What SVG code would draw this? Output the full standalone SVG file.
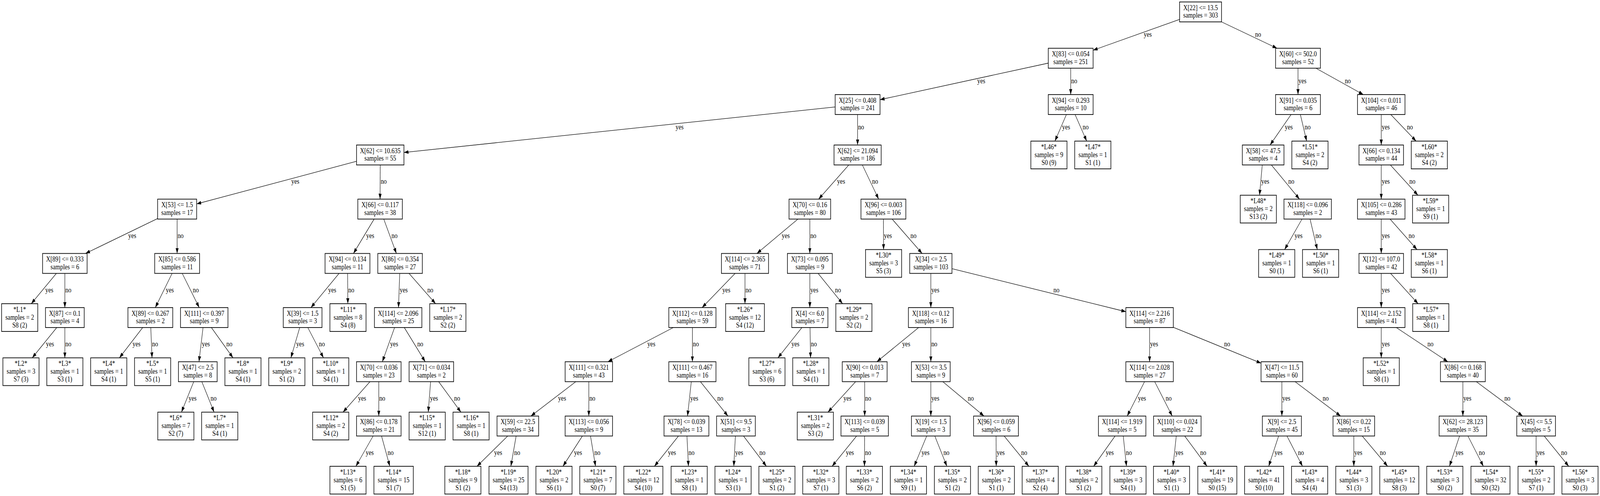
<svg xmlns="http://www.w3.org/2000/svg" width="4959" height="1269" viewBox="0 0 4959 1269" preserveAspectRatio="none" style="width:100vw;height:100vh;display:block">
<style>
.n rect{fill:#fff;stroke:#000;stroke-width:1.8}
text{font-family:"Liberation Serif","Times New Roman",serif;font-size:18.6px;fill:#000}
.n text{text-anchor:middle}
.e line{stroke:#000;stroke-width:1.3;marker-end:url(#ah)}
.e text{text-anchor:start}
</style>
<defs>
<marker id="ah" markerUnits="userSpaceOnUse" markerWidth="14" markerHeight="10" refX="14" refY="5" orient="auto"><path d="M0,0.3 L14,5 L0,9.7 z" fill="#000"/></marker>
</defs>
<rect x="0" y="0" width="4959" height="1269" fill="#fff"/>
<g id="connectors" class="e">
<line x1="3656" y1="49.6" x2="3388" y2="128.5"/><text x="3545" y="94.3">yes</text>
<line x1="3786" y1="56" x2="3958" y2="123.5"/><text x="3890" y="94.3">no</text>
<line x1="3249" y1="161.5" x2="2727.5" y2="255"/><text x="3029" y="212.8">yes</text>
<line x1="3318.5" y1="174.5" x2="3318.5" y2="242"/><text x="3320" y="212.8">no</text>
<line x1="4023" y1="174.5" x2="4023" y2="242"/><text x="4024.5" y="212.8">yes</text>
<line x1="4078.5" y1="174.5" x2="4225.5" y2="242"/><text x="4168" y="212.8">no</text>
<line x1="2588.5" y1="273.6" x2="1252" y2="390.1"/><text x="2094" y="331.5">yes</text>
<line x1="2658" y1="293" x2="2658" y2="371"/><text x="2659.5" y="331.5">no</text>
<line x1="3305.2" y1="293" x2="3269.6" y2="361"/><text x="3292" y="331.5">yes</text>
<line x1="3332" y1="293" x2="3368.1" y2="361"/><text x="3355.5" y="331.5">no</text>
<line x1="4001.6" y1="293" x2="3936.4" y2="371"/><text x="3982" y="331.5">yes</text>
<line x1="4030.3" y1="293" x2="4049.8" y2="361"/><text x="4043.5" y="331.5">no</text>
<line x1="4281" y1="293" x2="4281" y2="371"/><text x="4282.5" y="331.5">yes</text>
<line x1="4310.5" y1="293" x2="4389" y2="361"/><text x="4360.5" y="331.5">no</text>
<line x1="1105" y1="412.7" x2="609.5" y2="521.7"/><text x="903" y="470.3">yes</text>
<line x1="1178.5" y1="422" x2="1178" y2="509.5"/><text x="1180" y="470.3">no</text>
<line x1="2630.8" y1="422" x2="2537.2" y2="509.5"/><text x="2594.4" y="470.3">yes</text>
<line x1="2672.7" y1="422" x2="2723.3" y2="509.5"/><text x="2703" y="470.3">no</text>
<line x1="3912.2" y1="422" x2="3903.8" y2="499.5"/><text x="3909" y="470.3">yes</text>
<line x1="3940.4" y1="422" x2="4027.6" y2="509.5"/><text x="3993" y="470.3">no</text>
<line x1="4281" y1="422" x2="4281" y2="509.5"/><text x="4282.5" y="470.3">yes</text>
<line x1="4309.2" y1="422" x2="4394.8" y2="499.5"/><text x="4368.2" y="470.3">no</text>
<line x1="488.5" y1="559.2" x2="264.9" y2="648.5"/><text x="397.4" y="609">yes</text>
<line x1="549" y1="560.5" x2="549" y2="648.5"/><text x="550.5" y="609">no</text>
<line x1="1159.5" y1="560.5" x2="1095.5" y2="648.5"/><text x="1135" y="609">yes</text>
<line x1="1189.4" y1="560.5" x2="1228.6" y2="648.5"/><text x="1213.5" y="609">no</text>
<line x1="2473.1" y1="560.5" x2="2345.9" y2="648.5"/><text x="2423" y="609">yes</text>
<line x1="2510" y1="560.5" x2="2510" y2="648.5"/><text x="2511.5" y="609">no</text>
<line x1="2738" y1="560.5" x2="2738.5" y2="638.5"/><text x="2739.5" y="609">yes</text>
<line x1="2765" y1="560.5" x2="2858" y2="648.5"/><text x="2821.8" y="609">no</text>
<line x1="4035.4" y1="560.5" x2="3981.5" y2="638.5"/><text x="4012.3" y="609">yes</text>
<line x1="4060.3" y1="560.5" x2="4082.8" y2="638.5"/><text x="4076.9" y="609">no</text>
<line x1="4281" y1="560.5" x2="4281" y2="648.5"/><text x="4282.5" y="609">yes</text>
<line x1="4308.3" y1="560.5" x2="4391.9" y2="638.5"/><text x="4365.9" y="609">no</text>
<line x1="175.2" y1="699" x2="96.9" y2="777"/><text x="140.5" y="747.8">yes</text>
<line x1="201" y1="699" x2="201" y2="787"/><text x="202.5" y="747.8">no</text>
<line x1="533.7" y1="699" x2="481.3" y2="787"/><text x="514" y="747.8">yes</text>
<line x1="564.5" y1="699" x2="617.5" y2="787"/><text x="597.5" y="747.8">no</text>
<line x1="1051.4" y1="699" x2="963.6" y2="787"/><text x="1017.3" y="747.8">yes</text>
<line x1="1077.3" y1="699" x2="1078.1" y2="777"/><text x="1079.4" y="747.8">no</text>
<line x1="1238.9" y1="699" x2="1235.1" y2="787"/><text x="1238.9" y="747.8">yes</text>
<line x1="1267.2" y1="699" x2="1350.1" y2="777"/><text x="1324.4" y="747.8">no</text>
<line x1="2279" y1="699" x2="2176" y2="787"/><text x="2238.8" y="747.8">yes</text>
<line x1="2309" y1="699" x2="2309" y2="777"/><text x="2310.5" y="747.8">no</text>
<line x1="2510" y1="699" x2="2510" y2="787"/><text x="2511.5" y="747.8">yes</text>
<line x1="2535.1" y1="699" x2="2611.5" y2="777"/><text x="2588" y="747.8">no</text>
<line x1="2885" y1="699" x2="2885" y2="787"/><text x="2886.5" y="747.8">yes</text>
<line x1="2950.5" y1="687.4" x2="3489.5" y2="797.5"/><text x="3265" y="747.8">no</text>
<line x1="4281" y1="699" x2="4281" y2="787"/><text x="4282.5" y="747.8">yes</text>
<line x1="4309.3" y1="699" x2="4395.2" y2="777"/><text x="4368.5" y="747.8">no</text>
<line x1="176" y1="838" x2="99.9" y2="915.5"/><text x="142.7" y="886.3">yes</text>
<line x1="201" y1="838" x2="201" y2="915.5"/><text x="202.5" y="886.3">no</text>
<line x1="442.3" y1="838" x2="370.1" y2="915.5"/><text x="410.7" y="886.3">yes</text>
<line x1="467.3" y1="838" x2="471.2" y2="915.5"/><text x="471.4" y="886.3">no</text>
<line x1="629.3" y1="838" x2="616.7" y2="925.5"/><text x="625.7" y="886.3">yes</text>
<line x1="655.1" y1="838" x2="722.2" y2="915.5"/><text x="701.7" y="886.3">no</text>
<line x1="929" y1="838" x2="901.6" y2="915.5"/><text x="917.9" y="886.3">yes</text>
<line x1="954" y1="838" x2="1002.7" y2="915.5"/><text x="988.2" y="886.3">no</text>
<line x1="1223" y1="838" x2="1185" y2="925.5"/><text x="1209.1" y="886.3">yes</text>
<line x1="1253" y1="838" x2="1318" y2="925.5"/><text x="1293.2" y="886.3">no</text>
<line x1="2086.9" y1="838" x2="1884.1" y2="925.5"/><text x="2006.3" y="886.3">yes</text>
<line x1="2146" y1="838" x2="2146" y2="925.5"/><text x="2147.5" y="886.3">no</text>
<line x1="2485.5" y1="838" x2="2411.1" y2="915.5"/><text x="2453" y="886.3">yes</text>
<line x1="2510.6" y1="838" x2="2512.2" y2="915.5"/><text x="2513.2" y="886.3">no</text>
<line x1="2847.3" y1="838" x2="2717.7" y2="925.5"/><text x="2796.3" y="886.3">yes</text>
<line x1="2885" y1="838" x2="2885" y2="925.5"/><text x="2886.5" y="886.3">no</text>
<line x1="3563" y1="838" x2="3563" y2="925.5"/><text x="3564.5" y="886.3">yes</text>
<line x1="3636.5" y1="837.3" x2="3908.5" y2="929.2"/><text x="3794" y="886.3">no</text>
<line x1="4281" y1="838" x2="4281" y2="915.5"/><text x="4282.5" y="886.3">yes</text>
<line x1="4327.6" y1="838" x2="4487.4" y2="925.5"/><text x="4424.2" y="886.3">no</text>
<line x1="600.5" y1="976.5" x2="562.4" y2="1054.5"/><text x="584.6" y="1025">yes</text>
<line x1="625.5" y1="976.5" x2="663.6" y2="1054.5"/><text x="652.6" y="1025">no</text>
<line x1="1146.7" y1="976.5" x2="1063.1" y2="1054.5"/><text x="1109.9" y="1025">yes</text>
<line x1="1174" y1="976.5" x2="1174" y2="1064.5"/><text x="1175.5" y="1025">no</text>
<line x1="1334.6" y1="976.5" x2="1327.3" y2="1054.5"/><text x="1332.8" y="1025">yes</text>
<line x1="1359.6" y1="976.5" x2="1428.6" y2="1054.5"/><text x="1407.4" y="1025">no</text>
<line x1="1784.6" y1="976.5" x2="1645.4" y2="1064.5"/><text x="1729.7" y="1025">yes</text>
<line x1="1825" y1="976.5" x2="1825" y2="1064.5"/><text x="1826.5" y="1025">no</text>
<line x1="2142.6" y1="976.5" x2="2130.9" y2="1064.5"/><text x="2139.4" y="1025">yes</text>
<line x1="2170.8" y1="976.5" x2="2256.2" y2="1064.5"/><text x="2223.1" y="1025">no</text>
<line x1="2651.9" y1="976.5" x2="2566.1" y2="1054.5"/><text x="2614.2" y="1025">yes</text>
<line x1="2680" y1="976.5" x2="2680" y2="1064.5"/><text x="2681.5" y="1025">no</text>
<line x1="2885" y1="976.5" x2="2885" y2="1064.5"/><text x="2886.5" y="1025">yes</text>
<line x1="2922.1" y1="976.5" x2="3049.9" y2="1064.5"/><text x="2999.6" y="1025">no</text>
<line x1="3547.4" y1="976.5" x2="3493.6" y2="1064.5"/><text x="3527.1" y="1025">yes</text>
<line x1="3578.8" y1="976.5" x2="3633.2" y2="1064.5"/><text x="3612.7" y="1025">no</text>
<line x1="3973" y1="976.5" x2="3973" y2="1064.5"/><text x="3974.5" y="1025">yes</text>
<line x1="4013.9" y1="976.5" x2="4155.1" y2="1064.5"/><text x="4099.4" y="1025">no</text>
<line x1="4534" y1="976.5" x2="4534" y2="1064.5"/><text x="4535.5" y="1025">yes</text>
<line x1="4575.7" y1="976.5" x2="4719.3" y2="1064.5"/><text x="4662.6" y="1025">no</text>
<line x1="1156.4" y1="1115.5" x2="1103" y2="1193"/><text x="1133.5" y="1163.8">yes</text>
<line x1="1182.5" y1="1115.5" x2="1208.2" y2="1193"/><text x="1201.3" y="1163.8">no</text>
<line x1="1573.6" y1="1115.5" x2="1478.3" y2="1193"/><text x="1531.5" y="1163.8">yes</text>
<line x1="1599.7" y1="1115.5" x2="1583.4" y2="1193"/><text x="1593.7" y="1163.8">no</text>
<line x1="1805.1" y1="1115.5" x2="1744.7" y2="1193"/><text x="1779" y="1163.8">yes</text>
<line x1="1830.2" y1="1115.5" x2="1845.8" y2="1193"/><text x="1842.2" y="1163.8">no</text>
<line x1="2102.9" y1="1115.5" x2="2028.2" y2="1193"/><text x="2070.3" y="1163.8">yes</text>
<line x1="2129.1" y1="1115.5" x2="2133.8" y2="1193"/><text x="2133.8" y="1163.8">no</text>
<line x1="2279.3" y1="1115.5" x2="2274.3" y2="1193"/><text x="2278.5" y="1163.8">yes</text>
<line x1="2304.4" y1="1115.5" x2="2375.4" y2="1193"/><text x="2353.6" y="1163.8">no</text>
<line x1="2655" y1="1115.5" x2="2578.9" y2="1193"/><text x="2621.7" y="1163.8">yes</text>
<line x1="2679.8" y1="1115.5" x2="2679.3" y2="1193"/><text x="2681.1" y="1163.8">no</text>
<line x1="2872.2" y1="1115.5" x2="2833.3" y2="1193"/><text x="2855.9" y="1163.8">yes</text>
<line x1="2897.3" y1="1115.5" x2="2934.8" y2="1193"/><text x="2924" y="1163.8">no</text>
<line x1="3087.2" y1="1115.5" x2="3087.7" y2="1193"/><text x="3089.1" y="1163.8">yes</text>
<line x1="3112.2" y1="1115.5" x2="3188.9" y2="1193"/><text x="3165.2" y="1163.8">no</text>
<line x1="3456.1" y1="1115.5" x2="3389.5" y2="1193"/><text x="3427.1" y="1163.8">yes</text>
<line x1="3481.3" y1="1115.5" x2="3491.4" y2="1193"/><text x="3489.6" y="1163.8">no</text>
<line x1="3645.7" y1="1115.5" x2="3635.6" y2="1193"/><text x="3642.6" y="1163.8">yes</text>
<line x1="3671.8" y1="1115.5" x2="3741.2" y2="1193"/><text x="3719.9" y="1163.8">no</text>
<line x1="3962.9" y1="1115.5" x2="3932.1" y2="1193"/><text x="3950.3" y="1163.8">yes</text>
<line x1="3988.8" y1="1115.5" x2="4037" y2="1193"/><text x="4022.7" y="1163.8">no</text>
<line x1="4196" y1="1115.5" x2="4196" y2="1193"/><text x="4197.5" y="1163.8">yes</text>
<line x1="4222" y1="1115.5" x2="4300.9" y2="1193"/><text x="4276.5" y="1163.8">no</text>
<line x1="4523.7" y1="1115.5" x2="4492.4" y2="1193"/><text x="4510.9" y="1163.8">yes</text>
<line x1="4549.7" y1="1115.5" x2="4597.6" y2="1193"/><text x="4583.4" y="1163.8">no</text>
<line x1="4761" y1="1115.5" x2="4761" y2="1193"/><text x="4762.5" y="1163.8">yes</text>
<line x1="4786" y1="1115.5" x2="4862.1" y2="1193"/><text x="4838.7" y="1163.8">no</text>
</g>
<g id="n0" class="n"><rect x="3656" y="5" width="130" height="51"/><text x="3721" y="26">X[22] &lt;= 13.5</text><text x="3721" y="45.5">samples = 303</text></g>
<g id="n1" class="n"><rect x="3249" y="123.5" width="139" height="51"/><text x="3318.5" y="144.5">X[83] &lt;= 0.054</text><text x="3318.5" y="164">samples = 251</text></g>
<g id="n47" class="n"><rect x="3953.5" y="123.5" width="139" height="51"/><text x="4023" y="144.5">X[60] &lt;= 502.0</text><text x="4023" y="164">samples = 52</text></g>
<g id="n2" class="n"><rect x="2588.5" y="242" width="139" height="51"/><text x="2658" y="263">X[25] &lt;= 0.408</text><text x="2658" y="282.5">samples = 241</text></g>
<g id="n46" class="n"><rect x="3249" y="242" width="139" height="51"/><text x="3318.5" y="263">X[94] &lt;= 0.293</text><text x="3318.5" y="282.5">samples = 10</text></g>
<g id="n48" class="n"><rect x="3953.5" y="242" width="139" height="51"/><text x="4023" y="263">X[91] &lt;= 0.035</text><text x="4023" y="282.5">samples = 6</text></g>
<g id="n51" class="n"><rect x="4207.5" y="242" width="147" height="51"/><text x="4281" y="263">X[104] &lt;= 0.011</text><text x="4281" y="282.5">samples = 46</text></g>
<g id="n3" class="n"><rect x="1105" y="371" width="147" height="51"/><text x="1178.5" y="392">X[62] &lt;= 10.635</text><text x="1178.5" y="411.5">samples = 55</text></g>
<g id="n19" class="n"><rect x="2585" y="371" width="146" height="51"/><text x="2658" y="392">X[62] &lt;= 21.094</text><text x="2658" y="411.5">samples = 186</text></g>
<g id="n49" class="n"><rect x="3850.5" y="371" width="129" height="51"/><text x="3915" y="392">X[58] &lt;= 47.5</text><text x="3915" y="411.5">samples = 4</text></g>
<g id="n52" class="n"><rect x="4212" y="371" width="138" height="51"/><text x="4281" y="392">X[66] &lt;= 0.134</text><text x="4281" y="411.5">samples = 44</text></g>
<g id="n4" class="n"><rect x="488.5" y="509.5" width="121" height="51"/><text x="549" y="530.5">X[53] &lt;= 1.5</text><text x="549" y="550">samples = 17</text></g>
<g id="n11" class="n"><rect x="1109" y="509.5" width="138" height="51"/><text x="1178" y="530.5">X[66] &lt;= 0.117</text><text x="1178" y="550">samples = 38</text></g>
<g id="n20" class="n"><rect x="2445.5" y="509.5" width="129" height="51"/><text x="2510" y="530.5">X[70] &lt;= 0.16</text><text x="2510" y="550">samples = 80</text></g>
<g id="n31" class="n"><rect x="2668.5" y="509.5" width="139" height="51"/><text x="2738" y="530.5">X[96] &lt;= 0.003</text><text x="2738" y="550">samples = 106</text></g>
<g id="n50" class="n"><rect x="3979.5" y="509.5" width="147" height="51"/><text x="4053" y="530.5">X[118] &lt;= 0.096</text><text x="4053" y="550">samples = 2</text></g>
<g id="n53" class="n"><rect x="4207.5" y="509.5" width="147" height="51"/><text x="4281" y="530.5">X[105] &lt;= 0.286</text><text x="4281" y="550">samples = 43</text></g>
<g id="n5" class="n"><rect x="132" y="648.5" width="138" height="51"/><text x="201" y="669.5">X[89] &lt;= 0.333</text><text x="201" y="689">samples = 6</text></g>
<g id="n7" class="n"><rect x="479.5" y="648.5" width="139" height="51"/><text x="549" y="669.5">X[85] &lt;= 0.586</text><text x="549" y="689">samples = 11</text></g>
<g id="n12" class="n"><rect x="1007.5" y="648.5" width="139" height="51"/><text x="1077" y="669.5">X[94] &lt;= 0.134</text><text x="1077" y="689">samples = 11</text></g>
<g id="n14" class="n"><rect x="1171" y="648.5" width="138" height="51"/><text x="1240" y="669.5">X[86] &lt;= 0.354</text><text x="1240" y="689">samples = 27</text></g>
<g id="n21" class="n"><rect x="2236" y="648.5" width="146" height="51"/><text x="2309" y="669.5">X[114] &lt;= 2.365</text><text x="2309" y="689">samples = 71</text></g>
<g id="n29" class="n"><rect x="2440.5" y="648.5" width="139" height="51"/><text x="2510" y="669.5">X[73] &lt;= 0.095</text><text x="2510" y="689">samples = 9</text></g>
<g id="n32" class="n"><rect x="2819.5" y="648.5" width="131" height="51"/><text x="2885" y="669.5">X[34] &lt;= 2.5</text><text x="2885" y="689">samples = 103</text></g>
<g id="n54" class="n"><rect x="4212" y="648.5" width="138" height="51"/><text x="4281" y="669.5">X[12] &lt;= 107.0</text><text x="4281" y="689">samples = 42</text></g>
<g id="n6" class="n"><rect x="141" y="787" width="120" height="51"/><text x="201" y="808">X[87] &lt;= 0.1</text><text x="201" y="827.5">samples = 4</text></g>
<g id="n8" class="n"><rect x="396.5" y="787" width="139" height="51"/><text x="466" y="808">X[89] &lt;= 0.267</text><text x="466" y="827.5">samples = 2</text></g>
<g id="n9" class="n"><rect x="559.5" y="787" width="147" height="51"/><text x="633" y="808">X[111] &lt;= 0.397</text><text x="633" y="827.5">samples = 9</text></g>
<g id="n13" class="n"><rect x="878" y="787" width="120" height="51"/><text x="938" y="808">X[39] &lt;= 1.5</text><text x="938" y="827.5">samples = 3</text></g>
<g id="n15" class="n"><rect x="1160.5" y="787" width="147" height="51"/><text x="1234" y="808">X[114] &lt;= 2.096</text><text x="1234" y="827.5">samples = 25</text></g>
<g id="n22" class="n"><rect x="2073" y="787" width="146" height="51"/><text x="2146" y="808">X[112] &lt;= 0.128</text><text x="2146" y="827.5">samples = 59</text></g>
<g id="n30" class="n"><rect x="2454" y="787" width="112" height="51"/><text x="2510" y="808">X[4] &lt;= 6.0</text><text x="2510" y="827.5">samples = 7</text></g>
<g id="n33" class="n"><rect x="2815.5" y="787" width="139" height="51"/><text x="2885" y="808">X[118] &lt;= 0.12</text><text x="2885" y="827.5">samples = 16</text></g>
<g id="n39" class="n"><rect x="3489.5" y="787" width="147" height="51"/><text x="3563" y="808">X[114] &lt;= 2.216</text><text x="3563" y="827.5">samples = 87</text></g>
<g id="n55" class="n"><rect x="4207.5" y="787" width="147" height="51"/><text x="4281" y="808">X[114] &lt;= 2.152</text><text x="4281" y="827.5">samples = 41</text></g>
<g id="n10" class="n"><rect x="553" y="925.5" width="120" height="51"/><text x="613" y="946.5">X[47] &lt;= 2.5</text><text x="613" y="966">samples = 8</text></g>
<g id="n16" class="n"><rect x="1105" y="925.5" width="138" height="51"/><text x="1174" y="946.5">X[70] &lt;= 0.036</text><text x="1174" y="966">samples = 23</text></g>
<g id="n18" class="n"><rect x="1268" y="925.5" width="138" height="51"/><text x="1337" y="946.5">X[71] &lt;= 0.034</text><text x="1337" y="966">samples = 2</text></g>
<g id="n23" class="n"><rect x="1751.5" y="925.5" width="147" height="51"/><text x="1825" y="946.5">X[111] &lt;= 0.321</text><text x="1825" y="966">samples = 43</text></g>
<g id="n26" class="n"><rect x="2073" y="925.5" width="146" height="51"/><text x="2146" y="946.5">X[111] &lt;= 0.467</text><text x="2146" y="966">samples = 16</text></g>
<g id="n34" class="n"><rect x="2610.5" y="925.5" width="139" height="51"/><text x="2680" y="946.5">X[90] &lt;= 0.013</text><text x="2680" y="966">samples = 7</text></g>
<g id="n36" class="n"><rect x="2825" y="925.5" width="120" height="51"/><text x="2885" y="946.5">X[53] &lt;= 3.5</text><text x="2885" y="966">samples = 9</text></g>
<g id="n40" class="n"><rect x="3489.5" y="925.5" width="147" height="51"/><text x="3563" y="946.5">X[114] &lt;= 2.028</text><text x="3563" y="966">samples = 27</text></g>
<g id="n43" class="n"><rect x="3908.5" y="925.5" width="129" height="51"/><text x="3973" y="946.5">X[47] &lt;= 11.5</text><text x="3973" y="966">samples = 60</text></g>
<g id="n56" class="n"><rect x="4464.5" y="925.5" width="139" height="51"/><text x="4534" y="946.5">X[86] &lt;= 0.168</text><text x="4534" y="966">samples = 40</text></g>
<g id="n17" class="n"><rect x="1105" y="1064.5" width="138" height="51"/><text x="1174" y="1085.5">X[86] &lt;= 0.178</text><text x="1174" y="1105">samples = 21</text></g>
<g id="n24" class="n"><rect x="1540.5" y="1064.5" width="129" height="51"/><text x="1605" y="1085.5">X[59] &lt;= 22.5</text><text x="1605" y="1105">samples = 34</text></g>
<g id="n25" class="n"><rect x="1751.5" y="1064.5" width="147" height="51"/><text x="1825" y="1085.5">X[113] &lt;= 0.056</text><text x="1825" y="1105">samples = 9</text></g>
<g id="n27" class="n"><rect x="2058" y="1064.5" width="139" height="51"/><text x="2127.5" y="1085.5">X[78] &lt;= 0.039</text><text x="2127.5" y="1105">samples = 13</text></g>
<g id="n28" class="n"><rect x="2221" y="1064.5" width="120" height="51"/><text x="2281" y="1085.5">X[51] &lt;= 9.5</text><text x="2281" y="1105">samples = 3</text></g>
<g id="n35" class="n"><rect x="2606.5" y="1064.5" width="147" height="51"/><text x="2680" y="1085.5">X[113] &lt;= 0.039</text><text x="2680" y="1105">samples = 5</text></g>
<g id="n37" class="n"><rect x="2825" y="1064.5" width="120" height="51"/><text x="2885" y="1085.5">X[19] &lt;= 1.5</text><text x="2885" y="1105">samples = 3</text></g>
<g id="n38" class="n"><rect x="3017.5" y="1064.5" width="139" height="51"/><text x="3087" y="1085.5">X[96] &lt;= 0.059</text><text x="3087" y="1105">samples = 6</text></g>
<g id="n41" class="n"><rect x="3404.5" y="1064.5" width="147" height="51"/><text x="3478" y="1085.5">X[114] &lt;= 1.919</text><text x="3478" y="1105">samples = 5</text></g>
<g id="n42" class="n"><rect x="3575.5" y="1064.5" width="147" height="51"/><text x="3649" y="1085.5">X[110] &lt;= 0.024</text><text x="3649" y="1105">samples = 22</text></g>
<g id="n44" class="n"><rect x="3912.5" y="1064.5" width="121" height="51"/><text x="3973" y="1085.5">X[9] &lt;= 2.5</text><text x="3973" y="1105">samples = 45</text></g>
<g id="n45" class="n"><rect x="4131.5" y="1064.5" width="129" height="51"/><text x="4196" y="1085.5">X[86] &lt;= 0.22</text><text x="4196" y="1105">samples = 15</text></g>
<g id="n57" class="n"><rect x="4460.5" y="1064.5" width="147" height="51"/><text x="4534" y="1085.5">X[62] &lt;= 28.123</text><text x="4534" y="1105">samples = 35</text></g>
<g id="n58" class="n"><rect x="4701" y="1064.5" width="120" height="51"/><text x="4761" y="1085.5">X[45] &lt;= 5.5</text><text x="4761" y="1105">samples = 5</text></g>
<g id="L46" class="n"><rect x="3195" y="361" width="112" height="71"/><text x="3251" y="382">*L46*</text><text x="3251" y="402">samples = 9</text><text x="3251" y="422">S0 (9)</text></g>
<g id="L47" class="n"><rect x="3331" y="361" width="112" height="71"/><text x="3387" y="382">*L47*</text><text x="3387" y="402">samples = 1</text><text x="3387" y="422">S1 (1)</text></g>
<g id="L51" class="n"><rect x="4004" y="361" width="112" height="71"/><text x="4060" y="382">*L51*</text><text x="4060" y="402">samples = 2</text><text x="4060" y="422">S4 (2)</text></g>
<g id="L60" class="n"><rect x="4374" y="361" width="112" height="71"/><text x="4430" y="382">*L60*</text><text x="4430" y="402">samples = 2</text><text x="4430" y="422">S4 (2)</text></g>
<g id="L48" class="n"><rect x="3844" y="499.5" width="112" height="71"/><text x="3900" y="520.5">*L48*</text><text x="3900" y="540.5">samples = 2</text><text x="3900" y="560.5">S13 (2)</text></g>
<g id="L59" class="n"><rect x="4378" y="499.5" width="112" height="71"/><text x="4434" y="520.5">*L59*</text><text x="4434" y="540.5">samples = 1</text><text x="4434" y="560.5">S9 (1)</text></g>
<g id="L30" class="n"><rect x="2682.6" y="638.5" width="112" height="71"/><text x="2738.6" y="659.5">*L30*</text><text x="2738.6" y="679.5">samples = 3</text><text x="2738.6" y="699.5">S5 (3)</text></g>
<g id="L49" class="n"><rect x="3901" y="638.5" width="112" height="71"/><text x="3957" y="659.5">*L49*</text><text x="3957" y="679.5">samples = 1</text><text x="3957" y="699.5">S0 (1)</text></g>
<g id="L50" class="n"><rect x="4037" y="638.5" width="112" height="71"/><text x="4093" y="659.5">*L50*</text><text x="4093" y="679.5">samples = 1</text><text x="4093" y="699.5">S6 (1)</text></g>
<g id="L58" class="n"><rect x="4374" y="638.5" width="112" height="71"/><text x="4430" y="659.5">*L58*</text><text x="4430" y="679.5">samples = 1</text><text x="4430" y="699.5">S6 (1)</text></g>
<g id="L1" class="n"><rect x="5" y="777" width="112" height="71"/><text x="61" y="798">*L1*</text><text x="61" y="818">samples = 2</text><text x="61" y="838">S8 (2)</text></g>
<g id="L11" class="n"><rect x="1022.5" y="777" width="112" height="71"/><text x="1078.5" y="798">*L11*</text><text x="1078.5" y="818">samples = 8</text><text x="1078.5" y="838">S4 (8)</text></g>
<g id="L17" class="n"><rect x="1332" y="777" width="112" height="71"/><text x="1388" y="798">*L17*</text><text x="1388" y="818">samples = 2</text><text x="1388" y="838">S2 (2)</text></g>
<g id="L26" class="n"><rect x="2249" y="777" width="120" height="71"/><text x="2309" y="798">*L26*</text><text x="2309" y="818">samples = 12</text><text x="2309" y="838">S4 (12)</text></g>
<g id="L29" class="n"><rect x="2590.5" y="777" width="112" height="71"/><text x="2646.5" y="798">*L29*</text><text x="2646.5" y="818">samples = 2</text><text x="2646.5" y="838">S2 (2)</text></g>
<g id="L57" class="n"><rect x="4378.5" y="777" width="112" height="71"/><text x="4434.5" y="798">*L57*</text><text x="4434.5" y="818">samples = 1</text><text x="4434.5" y="838">S8 (1)</text></g>
<g id="L2" class="n"><rect x="9" y="915.5" width="112" height="71"/><text x="65" y="936.5">*L2*</text><text x="65" y="956.5">samples = 3</text><text x="65" y="976.5">S7 (3)</text></g>
<g id="L3" class="n"><rect x="145" y="915.5" width="112" height="71"/><text x="201" y="936.5">*L3*</text><text x="201" y="956.5">samples = 1</text><text x="201" y="976.5">S3 (1)</text></g>
<g id="L4" class="n"><rect x="281" y="915.5" width="112" height="71"/><text x="337" y="936.5">*L4*</text><text x="337" y="956.5">samples = 1</text><text x="337" y="976.5">S4 (1)</text></g>
<g id="L5" class="n"><rect x="417" y="915.5" width="112" height="71"/><text x="473" y="936.5">*L5*</text><text x="473" y="956.5">samples = 1</text><text x="473" y="976.5">S5 (1)</text></g>
<g id="L8" class="n"><rect x="697" y="915.5" width="112" height="71"/><text x="753" y="936.5">*L8*</text><text x="753" y="956.5">samples = 1</text><text x="753" y="976.5">S4 (1)</text></g>
<g id="L9" class="n"><rect x="833" y="915.5" width="112" height="71"/><text x="889" y="936.5">*L9*</text><text x="889" y="956.5">samples = 2</text><text x="889" y="976.5">S1 (2)</text></g>
<g id="L10" class="n"><rect x="969" y="915.5" width="112" height="71"/><text x="1025" y="936.5">*L10*</text><text x="1025" y="956.5">samples = 1</text><text x="1025" y="976.5">S4 (1)</text></g>
<g id="L27" class="n"><rect x="2321" y="915.5" width="112" height="71"/><text x="2377" y="936.5">*L27*</text><text x="2377" y="956.5">samples = 6</text><text x="2377" y="976.5">S3 (6)</text></g>
<g id="L28" class="n"><rect x="2457" y="915.5" width="112" height="71"/><text x="2513" y="936.5">*L28*</text><text x="2513" y="956.5">samples = 1</text><text x="2513" y="976.5">S4 (1)</text></g>
<g id="L52" class="n"><rect x="4225" y="915.5" width="112" height="71"/><text x="4281" y="936.5">*L52*</text><text x="4281" y="956.5">samples = 1</text><text x="4281" y="976.5">S8 (1)</text></g>
<g id="L6" class="n"><rect x="489" y="1054.5" width="112" height="71"/><text x="545" y="1075.5">*L6*</text><text x="545" y="1095.5">samples = 7</text><text x="545" y="1115.5">S2 (7)</text></g>
<g id="L7" class="n"><rect x="625" y="1054.5" width="112" height="71"/><text x="681" y="1075.5">*L7*</text><text x="681" y="1095.5">samples = 1</text><text x="681" y="1115.5">S4 (1)</text></g>
<g id="L12" class="n"><rect x="969" y="1054.5" width="112" height="71"/><text x="1025" y="1075.5">*L12*</text><text x="1025" y="1095.5">samples = 2</text><text x="1025" y="1115.5">S4 (2)</text></g>
<g id="L15" class="n"><rect x="1268" y="1054.5" width="112" height="71"/><text x="1324" y="1075.5">*L15*</text><text x="1324" y="1095.5">samples = 1</text><text x="1324" y="1115.5">S12 (1)</text></g>
<g id="L16" class="n"><rect x="1404" y="1054.5" width="112" height="71"/><text x="1460" y="1075.5">*L16*</text><text x="1460" y="1095.5">samples = 1</text><text x="1460" y="1115.5">S8 (1)</text></g>
<g id="L31" class="n"><rect x="2471" y="1054.5" width="112" height="71"/><text x="2527" y="1075.5">*L31*</text><text x="2527" y="1095.5">samples = 2</text><text x="2527" y="1115.5">S3 (2)</text></g>
<g id="L13" class="n"><rect x="1022.5" y="1193" width="112" height="71"/><text x="1078.5" y="1214">*L13*</text><text x="1078.5" y="1234">samples = 6</text><text x="1078.5" y="1254">S1 (5)</text></g>
<g id="L14" class="n"><rect x="1159" y="1193" width="122" height="71"/><text x="1220" y="1214">*L14*</text><text x="1220" y="1234">samples = 15</text><text x="1220" y="1254">S1 (7)</text></g>
<g id="L18" class="n"><rect x="1378.6" y="1193" width="112" height="71"/><text x="1434.6" y="1214">*L18*</text><text x="1434.6" y="1234">samples = 9</text><text x="1434.6" y="1254">S1 (2)</text></g>
<g id="L19" class="n"><rect x="1515.5" y="1193" width="121" height="71"/><text x="1576" y="1214">*L19*</text><text x="1576" y="1234">samples = 25</text><text x="1576" y="1254">S4 (13)</text></g>
<g id="L20" class="n"><rect x="1661" y="1193" width="112" height="71"/><text x="1717" y="1214">*L20*</text><text x="1717" y="1234">samples = 2</text><text x="1717" y="1254">S6 (1)</text></g>
<g id="L21" class="n"><rect x="1797" y="1193" width="112" height="71"/><text x="1853" y="1214">*L21*</text><text x="1853" y="1234">samples = 7</text><text x="1853" y="1254">S0 (7)</text></g>
<g id="L22" class="n"><rect x="1933.5" y="1193" width="121" height="71"/><text x="1994" y="1214">*L22*</text><text x="1994" y="1234">samples = 12</text><text x="1994" y="1254">S4 (10)</text></g>
<g id="L23" class="n"><rect x="2080" y="1193" width="112" height="71"/><text x="2136" y="1214">*L23*</text><text x="2136" y="1234">samples = 1</text><text x="2136" y="1254">S8 (1)</text></g>
<g id="L24" class="n"><rect x="2216" y="1193" width="112" height="71"/><text x="2272" y="1214">*L24*</text><text x="2272" y="1234">samples = 1</text><text x="2272" y="1254">S3 (1)</text></g>
<g id="L25" class="n"><rect x="2352" y="1193" width="112" height="71"/><text x="2408" y="1214">*L25*</text><text x="2408" y="1234">samples = 2</text><text x="2408" y="1254">S1 (2)</text></g>
<g id="L32" class="n"><rect x="2488" y="1193" width="112" height="71"/><text x="2544" y="1214">*L32*</text><text x="2544" y="1234">samples = 3</text><text x="2544" y="1254">S7 (1)</text></g>
<g id="L33" class="n"><rect x="2623" y="1193" width="112" height="71"/><text x="2679" y="1214">*L33*</text><text x="2679" y="1234">samples = 2</text><text x="2679" y="1254">S6 (2)</text></g>
<g id="L34" class="n"><rect x="2759.5" y="1193" width="112" height="71"/><text x="2815.5" y="1214">*L34*</text><text x="2815.5" y="1234">samples = 1</text><text x="2815.5" y="1254">S9 (1)</text></g>
<g id="L35" class="n"><rect x="2896" y="1193" width="112" height="71"/><text x="2952" y="1214">*L35*</text><text x="2952" y="1234">samples = 2</text><text x="2952" y="1254">S1 (2)</text></g>
<g id="L36" class="n"><rect x="3032" y="1193" width="112" height="71"/><text x="3088" y="1214">*L36*</text><text x="3088" y="1234">samples = 2</text><text x="3088" y="1254">S1 (1)</text></g>
<g id="L37" class="n"><rect x="3168" y="1193" width="112" height="71"/><text x="3224" y="1214">*L37*</text><text x="3224" y="1234">samples = 4</text><text x="3224" y="1254">S2 (4)</text></g>
<g id="L38" class="n"><rect x="3303" y="1193" width="112" height="71"/><text x="3359" y="1214">*L38*</text><text x="3359" y="1234">samples = 2</text><text x="3359" y="1254">S1 (2)</text></g>
<g id="L39" class="n"><rect x="3440" y="1193" width="112" height="71"/><text x="3496" y="1214">*L39*</text><text x="3496" y="1234">samples = 3</text><text x="3496" y="1254">S4 (1)</text></g>
<g id="L40" class="n"><rect x="3575" y="1193" width="112" height="71"/><text x="3631" y="1214">*L40*</text><text x="3631" y="1234">samples = 3</text><text x="3631" y="1254">S1 (1)</text></g>
<g id="L41" class="n"><rect x="3712.5" y="1193" width="121" height="71"/><text x="3773" y="1214">*L41*</text><text x="3773" y="1234">samples = 19</text><text x="3773" y="1254">S0 (15)</text></g>
<g id="L42" class="n"><rect x="3857.5" y="1193" width="121" height="71"/><text x="3918" y="1214">*L42*</text><text x="3918" y="1234">samples = 41</text><text x="3918" y="1254">S0 (10)</text></g>
<g id="L43" class="n"><rect x="4003" y="1193" width="112" height="71"/><text x="4059" y="1214">*L43*</text><text x="4059" y="1234">samples = 4</text><text x="4059" y="1254">S4 (4)</text></g>
<g id="L44" class="n"><rect x="4140" y="1193" width="112" height="71"/><text x="4196" y="1214">*L44*</text><text x="4196" y="1234">samples = 3</text><text x="4196" y="1254">S1 (3)</text></g>
<g id="L45" class="n"><rect x="4276.5" y="1193" width="121" height="71"/><text x="4337" y="1214">*L45*</text><text x="4337" y="1234">samples = 12</text><text x="4337" y="1254">S8 (3)</text></g>
<g id="L53" class="n"><rect x="4422" y="1193" width="112" height="71"/><text x="4478" y="1214">*L53*</text><text x="4478" y="1234">samples = 3</text><text x="4478" y="1254">S0 (2)</text></g>
<g id="L54" class="n"><rect x="4559" y="1193" width="121" height="71"/><text x="4619.5" y="1214">*L54*</text><text x="4619.5" y="1234">samples = 32</text><text x="4619.5" y="1254">S0 (32)</text></g>
<g id="L55" class="n"><rect x="4705" y="1193" width="112" height="71"/><text x="4761" y="1214">*L55*</text><text x="4761" y="1234">samples = 2</text><text x="4761" y="1254">S7 (1)</text></g>
<g id="L56" class="n"><rect x="4841" y="1193" width="112" height="71"/><text x="4897" y="1214">*L56*</text><text x="4897" y="1234">samples = 3</text><text x="4897" y="1254">S0 (3)</text></g>
</svg>
